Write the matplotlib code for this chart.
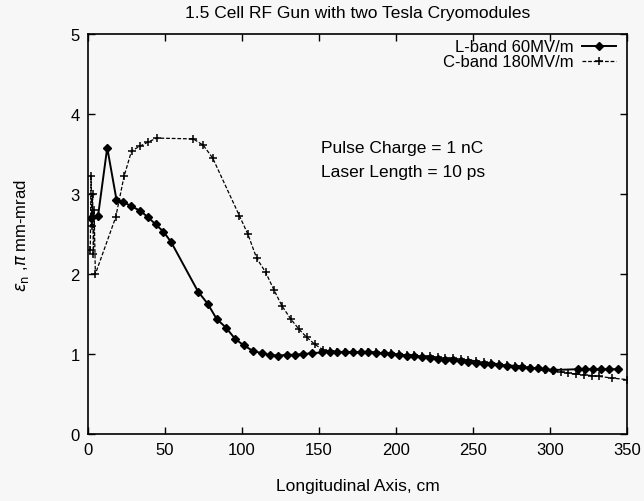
import matplotlib
matplotlib.use('Agg')
import matplotlib.pyplot as plt

# L-band 60 MV/m
l_x = [2, 6.5, 12.5, 18.5, 23, 28, 34, 39, 44, 49, 54, 71.5, 77.7, 83.5, 89.6, 95.5,
       101, 107, 112.8, 118, 123.6, 129, 134.4, 139.8, 145.7, 151.7, 157, 162, 167, 172,
       177, 182, 187, 192, 197, 202, 207, 212, 217, 222, 227, 232, 237, 242, 247, 252,
       257, 262, 267, 272, 277, 282, 287, 292, 297, 302, 318, 323, 328, 333, 338, 344]
l_y = [2.70, 2.72, 3.58, 2.93, 2.90, 2.85, 2.79, 2.71, 2.62, 2.53, 2.40, 1.78, 1.63, 1.44,
       1.33, 1.19, 1.11, 1.04, 1.01, 0.99, 0.98, 0.99, 0.99, 1.00, 1.01, 1.02, 1.03, 1.03,
       1.02, 1.02, 1.02, 1.02, 1.01, 1.01, 1.00, 0.99, 0.98, 0.97, 0.96, 0.95, 0.94, 0.93,
       0.92, 0.91, 0.90, 0.89, 0.88, 0.87, 0.86, 0.85, 0.84, 0.84, 0.83, 0.82, 0.81, 0.80,
       0.81, 0.81, 0.81, 0.81, 0.81, 0.81]

# C-band 180 MV/m
c_x = [1.5, 2, 2.5, 3, 3.5, 4, 4.8, 18, 23.4, 28.3, 33.8, 39, 44.6, 68.4, 74.9, 81,
       98.3, 103.8, 109.5, 115.4, 120.8, 126, 131.6, 137, 142, 147.4, 152.8, 157, 162,
       167, 172, 177, 182, 187, 192, 197, 202, 207, 212, 217, 222, 227, 232, 237, 242,
       247, 252, 257, 262, 267, 272, 277, 282, 287, 292, 297, 302, 307, 312, 317, 322,
       327, 332, 340, 350]
c_y = [2.3, 3.22, 2.6, 3.0, 2.25, 2.8, 2.0, 2.71, 3.22, 3.54, 3.60, 3.65, 3.70, 3.69,
       3.61, 3.45, 2.73, 2.50, 2.20, 2.02, 1.80, 1.60, 1.44, 1.31, 1.21, 1.12, 1.05, 1.04,
       1.03, 1.03, 1.02, 1.02, 1.02, 1.02, 1.01, 1.01, 1.00, 0.99, 0.985, 0.975, 0.97,
       0.96, 0.95, 0.945, 0.935, 0.925, 0.915, 0.90, 0.89, 0.875, 0.865, 0.855, 0.845,
       0.83, 0.82, 0.805, 0.79, 0.775, 0.76, 0.75, 0.74, 0.73, 0.72, 0.70, 0.68]

plt.rcParams['font.family'] = ['Liberation Sans', 'DejaVu Sans']

fig = plt.figure(figsize=(6.44, 5.02), dpi=100, facecolor='#f7f7f7')
ax = fig.add_axes([0.1366, 0.1335, 0.837, 0.7965])
ax.set_facecolor('#f7f7f7')

ax.plot(l_x, l_y, color='black', lw=1.4, marker='D', markersize=4.5, label='L-band 60MV/m')
ax.plot(c_x, c_y, color='black', lw=0.9, ls=(0, (3, 1.5)), marker='+', markersize=5.5,
        markeredgewidth=1.1, label='C-band 180MV/m')

ax.set_xlim(0, 350)
ax.set_ylim(0, 5)
ax.set_xticks(range(0, 351, 50))
ax.set_yticks(range(0, 6))
ax.tick_params(direction='in', top=True, right=True, length=5, width=1, labelsize=12, pad=6)
for s in ax.spines.values():
    s.set_linewidth(1.2)

ax.set_title('1.5 Cell RF Gun with two Tesla Cryomodules', fontsize=12.5, pad=12)
ax.set_xlabel('Longitudinal Axis, cm', fontsize=12.5, labelpad=15)
ax.set_ylabel(r'$\varepsilon_{\rm n}$ ,$\pi$ mm-mrad', fontsize=12, labelpad=28)

ax.text(151, 3.52, 'Pulse Charge = 1 nC', fontsize=12.5)
ax.text(151, 3.22, 'Laser Length = 10 ps', fontsize=12.5)

ax.legend(loc='upper right', frameon=False, markerfirst=False, fontsize=12,
          handlelength=2.0, labelspacing=0.0, borderaxespad=0.0, borderpad=0.2,
          handletextpad=0.5, bbox_to_anchor=(0.985, 0.995))

fig.savefig('out.png', dpi=100, facecolor=fig.get_facecolor())
